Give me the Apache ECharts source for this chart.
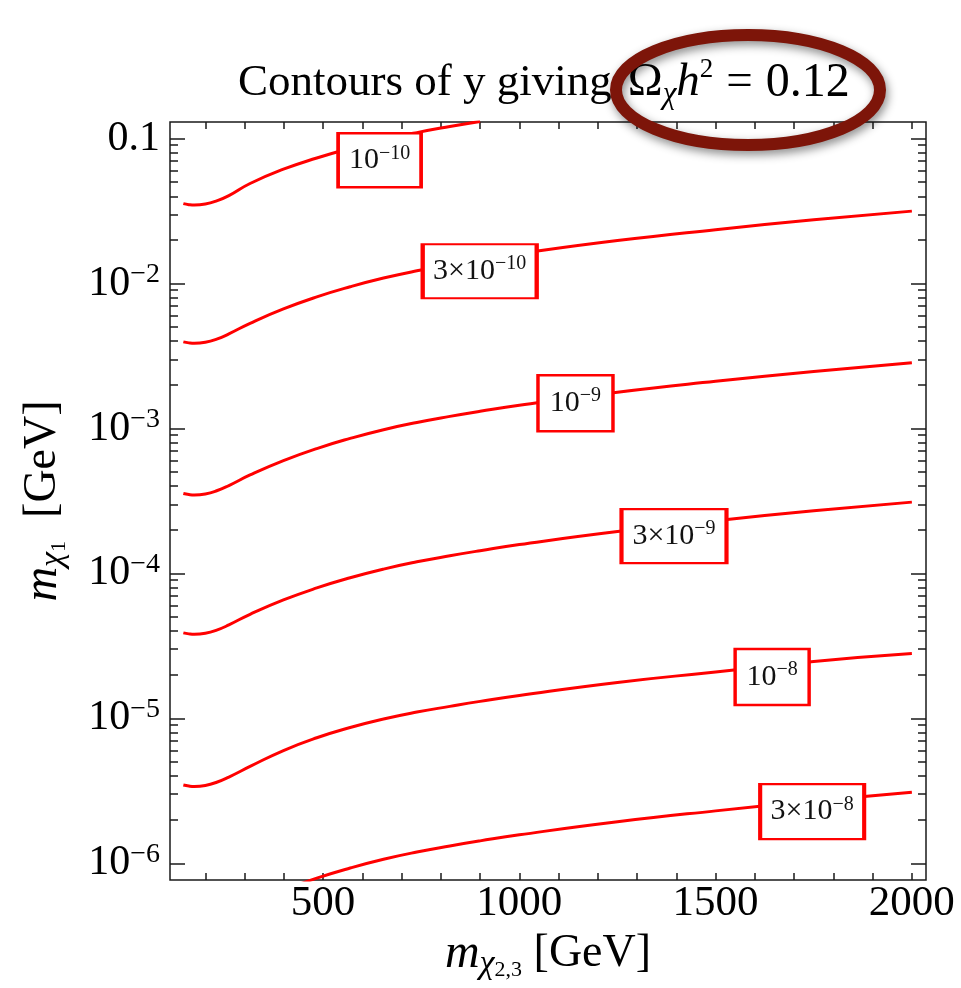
<!DOCTYPE html>
<html>
<head>
<meta charset="utf-8">
<script src="https://cdn.jsdelivr.net/npm/echarts@6/dist/echarts.min.js"></script>
<style>html,body{margin:0;padding:0;background:#fff}#chart{width:961px;height:988px}</style>
</head>
<body>
<div id="chart"></div>
<script>
// ---- data (x: m_chi2,3 in GeV, y: m_chi1 in GeV) ----
const massGrid = [144, 158, 172, 200, 229, 260, 314, 399, 484, 569, 654, 739, 823, 900, 1000, 1250, 1500, 1750, 2000];
const c1x = [144, 158, 172, 200, 229, 260, 314, 399, 484, 569, 654, 739, 823, 900];
const c1y = [0.0356, 0.03503, 0.03479, 0.03535, 0.03719, 0.04041, 0.0490, 0.0615, 0.0735, 0.0858, 0.0981, 0.1100, 0.1212, 0.1314];
const c2y = [0.00396, 0.003897, 0.00387, 0.003933, 0.004137, 0.004495, 0.005317, 0.00668, 0.00809, 0.00950, 0.01091, 0.01224, 0.01348, 0.01461, 0.01609, 0.01980, 0.02353, 0.02752, 0.03160];
const c3y = [3.56e-4, 3.503e-4, 3.479e-4, 3.535e-4, 3.719e-4, 4.041e-4, 4.78e-4, 6.00e-4, 7.27e-4, 8.54e-4, 9.81e-4, 1.100e-3, 1.212e-3, 1.314e-3, 1.447e-3, 1.780e-3, 2.116e-3, 2.474e-3, 2.841e-3];
const c4y = [3.89e-5, 3.828e-5, 3.801e-5, 3.863e-5, 4.064e-5, 4.415e-5, 5.224e-5, 6.56e-5, 7.94e-5, 9.33e-5, 1.071e-4, 1.202e-4, 1.324e-4, 1.435e-4, 1.581e-4, 1.945e-4, 2.312e-4, 2.704e-4, 3.104e-4];
const c5y = [3.47e-6, 3.414e-6, 3.391e-6, 3.446e-6, 3.625e-6, 3.938e-6, 4.66e-6, 6.00e-6, 7.35e-6, 8.65e-6, 9.90e-6, 1.105e-5, 1.210e-5, 1.310e-5, 1.440e-5, 1.770e-5, 2.090e-5, 2.470e-5, 2.800e-5];
const c6x = [399, 484, 569, 654, 739, 823, 900, 1000, 1250, 1500, 1750, 2000];
const c6y = [6.53e-7, 7.90e-7, 9.28e-7, 1.066e-6, 1.196e-6, 1.317e-6, 1.428e-6, 1.573e-6, 1.935e-6, 2.300e-6, 2.690e-6, 3.090e-6];

// contour labels (value of the coupling y) and the point where each sits
const labelCoeff = ['', '3×', '', '3×', '', '3×'];
const labelExp = ['−10', '−10', '−9', '−9', '−8', '−8'];
const labelX = [644, 899, 1143, 1394, 1644, 1746];
const labelY = [0.0709, 0.01216, 1.494e-3, 1.808e-4, 1.93e-5, 2.275e-6];

// ticks
const xTickLabels = [500, 1000, 1500, 2000];
const xTickValues = [200, 300, 400, 500, 600, 700, 800, 900, 1000, 1100, 1200, 1300, 1400, 1500, 1600, 1700, 1800, 1900, 2000];
const yMajorTicks = [1e-6, 1e-5, 1e-4, 1e-3, 1e-2, 1e-1];
const yMinorMult = [2, 3, 4, 5, 6, 7, 8, 9];

const yMinorTicks = [];
for (let e = -6; e <= -2; e++) {
  yMinorMult.forEach(k => yMinorTicks.push(parseFloat((k * Math.pow(10, e)).toPrecision(3))));
}

const SERIF = "'Liberation Serif', 'DejaVu Serif', serif";
const X_MIN = 110, X_MAX = 2036, Y_MIN = 7.67e-7, Y_MAX = 0.1302;
const boxSizes = [[83, 54], [114, 54], [75, 56], [105, 54], [74, 56], [104, 55]];

const curves = [
  [c1x, c1y], [massGrid, c2y], [massGrid, c3y], [massGrid, c4y], [massGrid, c5y], [c6x, c6y]
];

const chart = echarts.init(document.getElementById('chart'), null, {renderer: 'canvas'});

const tickLine = {color: '#1a1a1a', width: 1.5};
function xAx(pos, withLabels) {
  return {
    type: 'value', min: X_MIN, max: X_MAX, position: pos,
    axisLine: {show: false}, splitLine: {show: false},
    axisTick: {show: true, inside: true, length: 7, customValues: xTickValues, lineStyle: tickLine},
    axisLabel: withLabels ? {
      show: true, customValues: xTickLabels, margin: 1,
      formatter: v => '{b|' + v + '}',
      rich: {b: {fontSize: 43, fontFamily: SERIF, color: '#000', lineHeight: 46}}
    } : {show: false}
  };
}
function yAx(pos, ticks, len, withLabels) {
  return {
    type: 'log', logBase: 10, min: Y_MIN, max: Y_MAX, position: pos,
    axisLine: {show: false}, splitLine: {show: false},
    axisTick: {show: true, inside: true, length: len, customValues: ticks, lineStyle: tickLine},
    axisLabel: withLabels ? {
      show: true, customValues: ticks, margin: 10,
      formatter: v => {
        const e = Math.round(Math.log10(v));
        return e === -1 ? '{b|0.1}' : '{b|10}{s|−' + (-e) + '}';
      },
      rich: {
        b: {fontSize: 42, fontFamily: SERIF, color: '#000', lineHeight: 46},
        s: {fontSize: 28, fontFamily: SERIF, color: '#000', lineHeight: 36, verticalAlign: 'top'}
      }
    } : {show: false}
  };
}

const nameRich = {
  m: {fontSize: 48, fontFamily: SERIF, fontStyle: 'italic', color: '#000', lineHeight: 54},
  c: {fontSize: 34, fontFamily: SERIF, fontStyle: 'italic', color: '#000', lineHeight: 26, verticalAlign: 'bottom'},
  n: {fontSize: 22, fontFamily: SERIF, color: '#000', lineHeight: 10, verticalAlign: 'bottom'},
  g: {fontSize: 46, fontFamily: SERIF, color: '#000', lineHeight: 54}
};

const xMain = xAx('bottom', true);
xMain.name = '{m|m}{c|χ}{n|2,3}{g| [GeV]}';
xMain.nameLocation = 'middle';
xMain.nameGap = 47;
xMain.nameTextStyle = {rich: nameRich};

const yMain = yAx('left', yMajorTicks, 15, true);
yMain.name = '{m|m}{c|χ}{n|1}{g|  [GeV]}';
yMain.nameLocation = 'middle';
yMain.nameGap = 100;
yMain.nameTextStyle = {rich: nameRich};

const labelRich = {
  b: {fontSize: 30, fontFamily: SERIF, color: '#111', lineHeight: 34},
  s: {fontSize: 20, fontFamily: SERIF, color: '#111', lineHeight: 25, verticalAlign: 'top'}
};

const titleBase = {fontFamily: SERIF, fontWeight: 'normal', color: '#000'};
const option = {
  animation: false,
  backgroundColor: '#fff',
  title: {
    text: '{t|Contours of y giving}{o|Ω}{c|χ}{h|h}{p|2}{e|=}{u|0.12}',
    left: 238, top: 56, padding: 0,
    textStyle: {
      fontWeight: 'normal',
      rich: {
        t: Object.assign({fontSize: 45, lineHeight: 54}, titleBase),
        o: Object.assign({fontSize: 47, lineHeight: 54, padding: [0, 0, 0, 16]}, titleBase),
        c: Object.assign({fontSize: 31, fontStyle: 'italic', lineHeight: 31, verticalAlign: 'bottom'}, titleBase),
        h: Object.assign({fontSize: 47, fontStyle: 'italic', lineHeight: 54}, titleBase),
        p: Object.assign({fontSize: 27, lineHeight: 36, verticalAlign: 'top'}, titleBase),
        e: Object.assign({fontSize: 47, lineHeight: 54, padding: [0, 13, 0, 13]}, titleBase),
        u: Object.assign({fontSize: 48, lineHeight: 54}, titleBase)
      }
    }
  },
  grid: {left: 170, right: 35, top: 122, bottom: 108, show: true, borderColor: '#1a1a1a', borderWidth: 1.5, outerBoundsMode: 'none', containLabel: false},
  xAxis: [xMain, xAx('top', false)],
  yAxis: [yMain, yAx('left', yMinorTicks, 8, false), yAx('right', yMajorTicks, 15, false), yAx('right', yMinorTicks, 8, false)],
  series: curves.map((c, i) => ({
    type: 'line', xAxisIndex: 0, yAxisIndex: 0, silent: true,
    data: c[0].map((x, j) => [x, c[1][j]]),
    smooth: 0.5, showSymbol: false, symbol: 'none', clip: true,
    lineStyle: {color: '#ff0000', width: 3},
    markPoint: {
      silent: true, animation: false,
      symbol: 'rect', symbolSize: boxSizes[i],
      itemStyle: {color: '#fff', borderColor: '#ff0000', borderWidth: 3},
      label: {
        show: true, position: 'inside',
        formatter: '{b|' + labelCoeff[i] + '10}{s|' + labelExp[i] + '}',
        rich: labelRich
      },
      data: [{coord: [labelX[i], labelY[i]]}]
    }
  })),
  graphic: [{
    type: 'ellipse', z: 100, silent: true,
    shape: {cx: 748, cy: 90, rx: 132, ry: 55},
    style: {fill: 'none', stroke: '#7d1509', lineWidth: 12, shadowBlur: 10, shadowColor: 'rgba(0,0,0,0.45)', shadowOffsetX: 2, shadowOffsetY: 4}
  }]
};
chart.setOption(option);
</script>
</body>
</html>
